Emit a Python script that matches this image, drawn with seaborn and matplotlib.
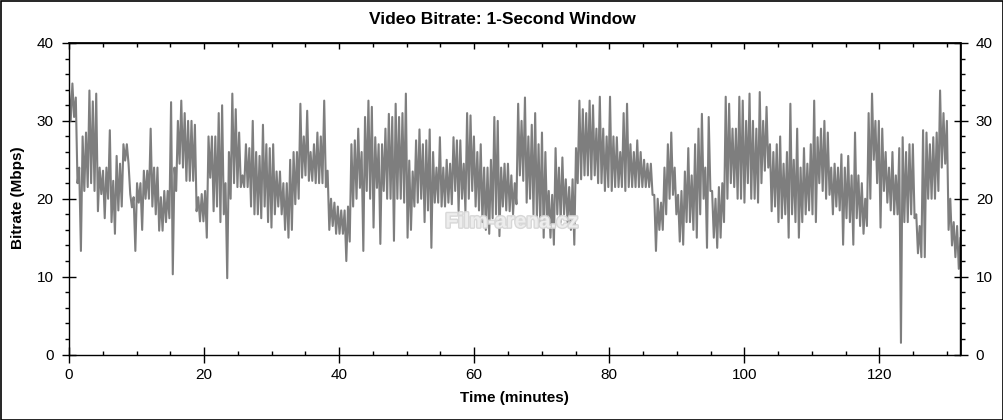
import numpy as np
import pandas as pd
import matplotlib
matplotlib.use("Agg")
import matplotlib.pyplot as plt
from matplotlib.ticker import MultipleLocator
from matplotlib.patches import Rectangle
import matplotlib.patheffects as pe
import seaborn as sns

# Upper and lower envelope of the 1-second bitrate trace, read every ~0.5 min (Mbps)
peak_mbps = [
    34, 34.8, 33, 24, 28, 28.5, 33.9, 32.5, 33.5, 24,
    23.6, 24, 28.8, 22.3, 25.5, 24.5, 27, 27, 20.6, 20.2,
    22, 22, 23.6, 23.6, 29, 24, 24, 20.2, 21, 21,
    32.4, 24, 30, 32.6, 31, 30, 30, 29.5, 20.2, 20.6,
    21, 28, 28, 28, 31, 32, 22, 26, 33.5, 31.5,
    28.5, 23, 27, 26.5, 30, 26, 25.5, 29.5, 27, 26.5,
    27, 23.5, 23.5, 22, 22, 25, 26, 26, 32.2, 28,
    31.3, 26, 27, 28.5, 28, 32.6, 23.6, 20, 19.5, 19,
    18.5, 18.5, 19, 27, 27.5, 29, 26, 30.5, 32.6, 31.8,
    27.9, 27, 27, 29, 30.9, 30.5, 32.2, 30.5, 31, 33.5,
    24.9, 23.5, 27.5, 28.9, 27, 27.5, 28.9, 26, 24, 27.9,
    24, 25, 24.5, 27.9, 27.5, 27.5, 24.5, 31, 30.7, 28,
    26, 27, 24, 24, 25, 30.5, 30, 24, 24.5, 24.5,
    23, 22, 32.2, 30, 33, 28, 29.5, 31, 27, 28.5,
    26, 21, 20.5, 26.5, 24, 25.3, 22.5, 21.5, 22.5, 26.5,
    32.6, 31.5, 31, 32.6, 32, 29, 33.1, 29, 28, 33.1,
    28, 27.9, 26, 31, 32.2, 27, 26, 27.5, 26, 25,
    24.5, 24.5, 20.5, 20, 19.5, 24, 27, 28.5, 24, 20.5,
    21, 23.5, 26.5, 23, 27, 29, 30.9, 24, 30.5, 21,
    20, 21.5, 22, 33.1, 32.2, 29, 29, 33.1, 32.6, 30,
    33.5, 30, 29, 33.7, 30, 31.8, 27, 26, 27, 28,
    24.5, 26, 32.2, 25, 29, 24, 26.5, 24.5, 27, 32.6,
    27.9, 29, 30, 28.5, 24, 24.5, 24, 25.7, 24, 25.5,
    23, 28.5, 23, 22, 20, 31, 33.5, 30, 30, 29,
    26, 24, 26, 23, 26.5, 27.9, 26, 27, 27, 18,
    16.5, 28.8, 28.5, 27, 27.9, 28.5, 33.9, 31, 30, 20,
    17, 16.5, 15,
]
low_mbps = [
    30, 30.5, 22, 13.3, 21, 21.5, 22, 21, 18.4, 20.6,
    17.5, 20, 17, 15.5, 18.5, 19, 24.9, 24.5, 18.9, 13.3,
    19.5, 16, 20, 20, 19, 18, 15.9, 15.9, 17, 17.5,
    10.3, 21, 24.5, 24, 22.3, 22.3, 22.3, 18.4, 17.1, 17.1,
    15, 22.7, 18.4, 19, 17, 18, 9.8, 20, 22, 21.5,
    21.5, 21.5, 21.5, 19, 18, 18, 17.5, 19, 17, 16.3,
    18, 19, 18, 16, 15, 16, 19.3, 20, 22.7, 23,
    22.3, 22.3, 22, 22, 22, 21.5, 16, 16.5, 15.5, 15.5,
    15.5, 12, 14.5, 19, 20, 21.4, 13.3, 21, 20, 16.3,
    21.4, 14.2, 21, 20, 20, 14.6, 20, 20, 19.5, 15,
    16, 19, 19.5, 20, 17, 18.5, 13.7, 19.5, 19.5, 19,
    19, 19.5, 19.3, 21, 18.4, 20, 18.4, 20, 21, 19,
    18.5, 17, 16, 15.5, 17.5, 18, 15.2, 19, 18.5, 18.4,
    18, 19.3, 23, 22.3, 19.5, 20, 18, 17.5, 16.5, 15,
    17, 15, 14.1, 18, 17, 18, 17, 16, 14.1, 22,
    22.5, 23, 23, 22.5, 23, 22, 22, 21, 21.5, 21,
    21.5, 21.5, 21.5, 21, 21.5, 21.5, 21.5, 21.5, 21.5, 21.5,
    21.5, 20.5, 13.3, 16, 16, 18, 20, 20.5, 18, 14.5,
    14.1, 17, 17, 16, 15, 18, 20, 13.7, 21, 15,
    13.7, 15, 17, 20, 22, 21.5, 20, 20, 19.5, 22,
    20, 20, 19.5, 22, 23.6, 24, 18.4, 19, 17, 17.5,
    18, 15, 18, 17, 15, 17, 18, 18.5, 18, 17,
    22, 21, 20, 20.5, 18, 19, 18.5, 14.1, 17.5, 17,
    14.1, 17.5, 16.5, 15.5, 16.5, 20, 25, 22, 16.3, 21,
    19.5, 18.5, 18, 18, 1.5, 17, 17, 18, 17.5, 13,
    12.5, 12.5, 20, 20, 20, 21, 24, 24.5, 16, 14,
    12.5, 11, 10.7,
]
assert len(peak_mbps) == len(low_mbps)
minutes = np.linspace(0, 132, len(peak_mbps))

x_major = [0, 20, 40, 60, 80, 100, 120]
y_major = [0, 10, 20, 30, 40]
title_text = "Video Bitrate: 1-Second Window"
x_label = "Time (minutes)"
y_label = "Bitrate (Mbps)"
watermark = "Film-arena.cz"

sns.set_theme(style="white")
plt.rcParams['font.family'] = ['Liberation Sans', 'DejaVu Sans']

W, H = 1004, 420
fig = plt.figure(figsize=(W / 100, H / 100), dpi=100)
fig.patch.set_facecolor("white")
L, R, T, B = 69, 960.5, 43, 354.5
ax = fig.add_axes([L / W, (H - B) / H, (R - L) / W, (B - T) / H])
ax.set_facecolor("white")

# zig-zag between the upper and lower envelopes to render the dense trace
half = (minutes[1] - minutes[0]) / 2
n = len(minutes)
xs = np.empty(2 * n)
ys = np.empty(2 * n)
xs[0::2] = minutes
xs[1::2] = minutes + half
ys[0::2] = peak_mbps
ys[1::2] = low_mbps
df = pd.DataFrame({"Time": xs, "Bitrate": ys})
sns.lineplot(data=df, x="Time", y="Bitrate", ax=ax, color="#7e7e7e",
             linewidth=1.5, sort=False, estimator=None)

ax.set_xlim(0, 132)
ax.set_ylim(0, 40)
ax.set_xlabel("")
ax.set_ylabel("")
ax.set_xticks(x_major)
ax.set_yticks(y_major)
ax.xaxis.set_minor_locator(MultipleLocator(5))
ax.yaxis.set_minor_locator(MultipleLocator(2))

for s in ax.spines.values():
    s.set_visible(True)
    s.set_color("black")
    s.set_linewidth(1.0)

ax.tick_params(axis="x", which="major", bottom=True, top=False, direction="inout",
               length=12, width=1, color="black", labelsize=11, pad=4, labelcolor="black")
ax.tick_params(axis="x", which="minor", bottom=True, top=False, direction="in",
               length=3, width=1, color="black")
ax.tick_params(axis="y", which="major", left=True, right=False, direction="inout",
               length=10, width=1, color="black", labelsize=11, pad=6, labelcolor="black")
ax.tick_params(axis="y", which="minor", left=True, right=False, direction="out",
               length=3, width=1, color="black")

# right axis (mirrored labels)
ry = ax.secondary_yaxis("right")
ry.set_yticks(y_major)
ry.yaxis.set_minor_locator(MultipleLocator(2))
ry.tick_params(axis="y", which="major", direction="inout", length=10, width=1,
               color="black", labelsize=11, pad=6, labelcolor="black")
ry.tick_params(axis="y", which="minor", direction="out", length=3, width=1, color="black")
ry.spines["right"].set_color("black")

# top axis (ticks only)
tx = ax.secondary_xaxis("top")
tx.set_xticks(x_major)
tx.xaxis.set_minor_locator(MultipleLocator(5))
tx.tick_params(axis="x", which="major", direction="in", length=4, width=1,
               color="black", labeltop=False)
tx.tick_params(axis="x", which="minor", direction="in", length=3, width=1, color="black")
tx.spines["top"].set_color("black")

# watermark
ax.text(512, 198, watermark, transform=None, ha="center", va="center",
        fontsize=15, fontweight="bold", color="#f0f0f0", zorder=5, alpha=0.9,
        path_effects=[pe.withStroke(linewidth=2, foreground="#d4d4d4")])

fig.text(0.5, 1 - 20 / H, title_text, ha="center", va="center",
         fontsize=12.5, fontweight="bold", color="black")
fig.text((L + R) / 2 / W, 1 - 398 / H, x_label, ha="center", va="center",
         fontsize=11, fontweight="bold", color="black")
fig.text(18 / W, 1 - 198 / H, y_label, ha="center", va="center", rotation=90,
         fontsize=11, fontweight="bold", color="black")

fig.patches.append(Rectangle((0.5 / W, 0.5 / H), (W - 1.5) / W, (H - 1.5) / H,
                             transform=fig.transFigure, fill=False,
                             edgecolor="black", linewidth=1.2))

fig.savefig("out.png", dpi=100, facecolor="white")
